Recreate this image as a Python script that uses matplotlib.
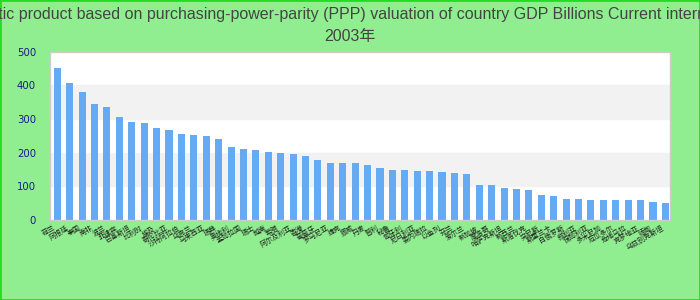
import matplotlib
matplotlib.use('Agg')
import matplotlib.pyplot as plt
from matplotlib.patches import Rectangle

countries = ['荷兰', '阿根廷', '泰国', '南非', '波兰', '菲律宾', '巴基斯坦', '比利时', '埃及', '哥伦比亚',
             '沙特阿拉伯', '乌克兰', '马来西亚', '瑞典', '奥地利', '孟加拉国', '瑞士', '越南', '希腊', '阿尔及利亚',
             '香港', '葡萄牙', '罗马尼亚', '捷克', '挪威', '丹麦', '智利', '秘鲁', '匈牙利', '尼日利亚',
             '委内瑞拉', '以色列', '芬兰', '爱尔兰', '新加坡', '摩洛哥', '哈萨克斯坦', '新西兰', '斯洛伐克', '突尼斯',
             '斯里兰卡', '白俄罗斯', '叙利亚', '保加利亚', '多米尼加', '厄瓜多尔', '危地马拉', '克罗地亚', '缅甸', '乌兹别克斯坦']
gdp = [451, 407, 380, 345, 336, 306, 291, 288, 273, 267,
       255, 252, 249, 241, 217, 211, 208, 202, 199, 196,
       190, 178, 169, 169, 169, 163, 154, 148, 148, 145,
       145, 143, 140, 137, 104, 104, 95, 92, 89, 74,
       71, 62, 62, 59, 59, 59, 59, 59, 53, 50]
y_ticks = [0, 100, 200, 300, 400, 500]

fig = plt.figure(figsize=(7, 3), dpi=100, facecolor='#90ee90')
fig.patches.append(Rectangle((0, 0), 1, 1, transform=fig.transFigure, fill=False,
                             edgecolor='#22dd22', linewidth=2))

ax = fig.add_axes([50/700, 80/300, 620/700, 168.3/300])
ax.set_facecolor('white')

# alternating bands
for i in range(len(y_ticks) - 1):
    if i % 2 == 1:
        ax.axhspan(y_ticks[i], y_ticks[i+1], color='#f2f2f2', zorder=0)

x = range(len(gdp))
ax.bar(x, gdp, width=0.57, color='#64abf3', zorder=2)

ax.set_xlim(-0.59, 49.37)
ax.set_ylim(0, 500)
ax.set_yticks(y_ticks)
ax.tick_params(axis='y', length=0, pad=10, labelsize=7.3, labelcolor='#1a1a8a')
ax.set_xticks(list(x))
ax.set_xticklabels(countries, rotation=30, ha='right', fontsize=5,
                   family=['Noto Sans CJK SC', 'DejaVu Sans'], color='#222222')
ax.tick_params(axis='x', length=0, pad=3)
for s in ax.spines.values():
    s.set_color('#cccccc')
    s.set_linewidth(1)

fig.suptitle('Gross domestic product based on purchasing-power-parity (PPP) valuation of country GDP Billions Current international dollar\n2003年',
             x=0.5, y=0.975, fontsize=11.5, color='#444444',
             family=['Liberation Sans', 'Noto Sans CJK SC'], linespacing=1.55)

fig.savefig('out.png', dpi=100, facecolor=fig.get_facecolor())
